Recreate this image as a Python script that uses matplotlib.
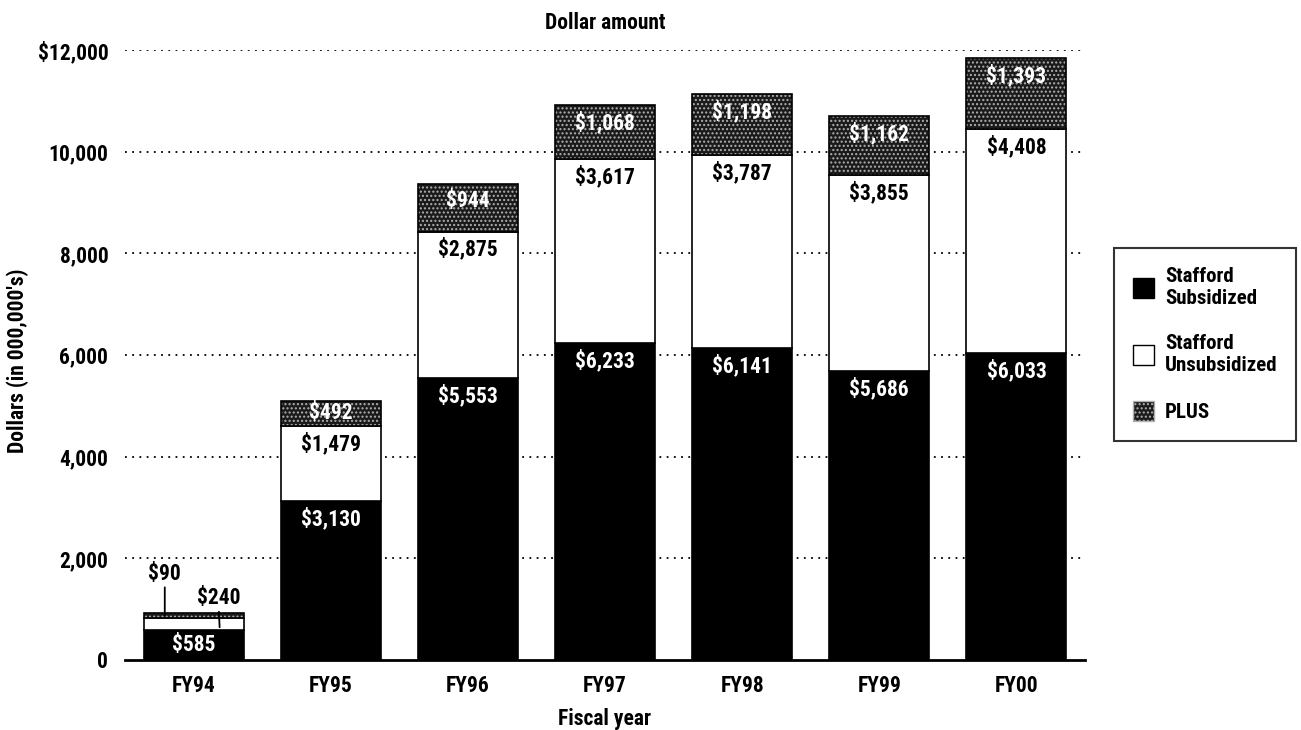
import matplotlib.pyplot as plt
from matplotlib.patches import Patch
import numpy as np

anos = ['FY94', 'FY95', 'FY96', 'FY97', 'FY98', 'FY99', 'FY00']
subsidiado = [585, 3130, 5553, 6233, 6141, 5686, 6033]
nao_subsidiado = [240, 1479, 2875, 3617, 3787, 3855, 4408]
plus = [90, 492, 944, 1068, 1198, 1162, 1393]
yticks = [0, 2000, 4000, 6000, 8000, 10000, 12000]
ytick_labels = ['0', '2,000', '4,000', '6,000', '8,000', '10,000', '$12,000']

plt.rcParams['font.family'] = ['Roboto Condensed', 'DejaVu Sans']
plt.rcParams['font.weight'] = 'bold'
plt.rcParams['hatch.linewidth'] = 1.0

fig = plt.figure(figsize=(13.01, 7.30), dpi=100)
ax = fig.add_axes([125 / 1301, 1 - 660 / 730, 960 / 1301, 610 / 730])

x = np.arange(len(anos))
larg = 0.73
sub = np.array(subsidiado)
nsub = np.array(nao_subsidiado)
pl = np.array(plus)

ax.bar(x, sub, larg, color='black', edgecolor='black', linewidth=1.2, zorder=3)
ax.bar(x, nsub, larg, bottom=sub, color='white', edgecolor='black', linewidth=1.2, zorder=3)
# PLUS: fundo escuro com pontinhos claros, contorno preto por cima
ax.bar(x, pl, larg, bottom=sub + nsub, color='#1a1a1a', edgecolor='#b0b0b0',
       hatch='....', linewidth=0, zorder=3)
ax.bar(x, pl, larg, bottom=sub + nsub, fill=False, edgecolor='black', linewidth=1.2, zorder=4)

fs = 15.5
# rotulos dentro das barras, logo abaixo do topo de cada segmento
desloc = 350
for i in range(1, len(anos)):
    segmentos = [
        (0, sub[i], 'white'),
        (sub[i], sub[i] + nsub[i], 'black'),
        (sub[i] + nsub[i], sub[i] + nsub[i] + pl[i], 'white'),
    ]
    valores = [sub[i], nsub[i], pl[i]]
    for (b, t, cor), v in zip(segmentos, valores):
        yy = max(t - desloc, (b + t) / 2)
        ax.text(x[i], yy, f'${v:,}', ha='center', va='center', color=cor,
                fontsize=fs, fontweight='bold', zorder=5)

# FY94 tem segmentos pequenos: rotulos com linha
ax.text(0, sub[0] / 2, f'${sub[0]:,}', ha='center', va='center', color='white',
        fontsize=fs, fontweight='bold', zorder=5)
ax.annotate(f'${plus[0]}', xy=(-0.21, sub[0] + nsub[0] + pl[0] / 2), xytext=(-0.21, 1700),
            ha='center', va='center', fontsize=fs, fontweight='bold',
            arrowprops=dict(arrowstyle='-', color='black', lw=1.3, shrinkA=0, shrinkB=0), zorder=6)
ax.annotate(f'${nao_subsidiado[0]}', xy=(0.19, sub[0] + nsub[0] * 0.25), xytext=(0.18, 1220),
            ha='center', va='center', fontsize=fs, fontweight='bold',
            arrowprops=dict(arrowstyle='-', color='black', lw=1.3, shrinkA=0, shrinkB=0), zorder=6)

ax.set_xlim(-0.5, 6.5)
ax.set_ylim(0, 12000)
ax.set_yticks(yticks)
ax.set_yticklabels(ytick_labels)
ax.set_xticks(x)
ax.set_xticklabels(anos)
ax.tick_params(axis='both', length=0, labelsize=fs)
ax.tick_params(axis='y', pad=12)
ax.tick_params(axis='x', pad=11)

for y in yticks[1:]:
    ax.axhline(y, color='black', linestyle=(0, (1, 3)), linewidth=1.3, zorder=1)

for lado in ['top', 'right', 'left']:
    ax.spines[lado].set_visible(False)
ax.spines['bottom'].set_linewidth(2)

ax.set_title('Dollar amount', fontsize=15.5, fontweight='bold', pad=15)
ax.set_xlabel('Fiscal year', fontsize=15.5, fontweight='bold', labelpad=8)
ax.set_ylabel("Dollars (in 000,000's)", fontsize=15.5, fontweight='bold')
ax.yaxis.set_label_coords(-0.100, 0.49)

handles = [
    Patch(facecolor='black', edgecolor='black', label='Stafford\nSubsidized'),
    Patch(facecolor='white', edgecolor='black', label='Stafford\nUnsubsidized'),
    Patch(facecolor='#1a1a1a', edgecolor='#b0b0b0', hatch='....', label='PLUS'),
]
leg = fig.legend(handles=handles, loc='upper left', bbox_to_anchor=(1114 / 1301, 1 - 248 / 730),
                 borderaxespad=0, fontsize=15, frameon=True, fancybox=False, edgecolor='black',
                 handlelength=1.0, handleheight=1.1, handletextpad=0.55,
                 labelspacing=1.25, borderpad=0.9)
leg.get_frame().set_linewidth(1.5)

fig.savefig('out.png', dpi=100)
